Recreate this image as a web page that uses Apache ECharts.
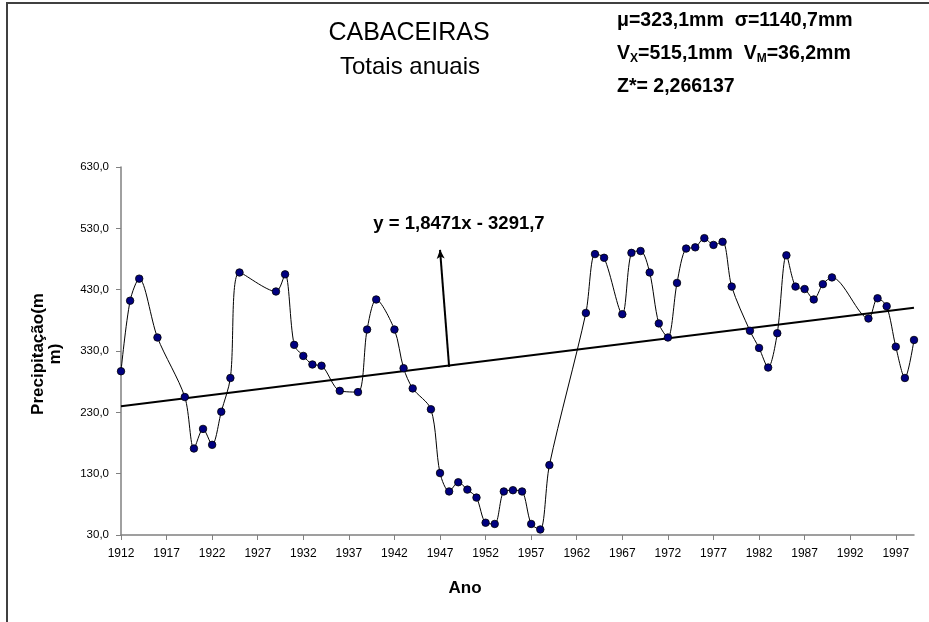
<!DOCTYPE html>
<html>
<head>
<meta charset="utf-8">
<script src="https://cdn.jsdelivr.net/npm/echarts@6/dist/echarts.min.js"></script>
<style>
html, body { margin: 0; padding: 0; background: #fff; }
#chart { width: 929px; height: 622px; }
</style>
</head>
<body>
<div id="chart"></div>
<script>
// anos (eixo de categorias)
var years = [
    '1912', '1913', '1914', '1915', '1916', '1917', '1918', '1919', '1920', '1921',
    '1922', '1923', '1924', '1925', '1926', '1927', '1928', '1929', '1930', '1931',
    '1932', '1933', '1934', '1935', '1936', '1937', '1938', '1939', '1940', '1941',
    '1942', '1943', '1944', '1945', '1946', '1947', '1948', '1949', '1950', '1951',
    '1952', '1953', '1954', '1955', '1956', '1957', '1958', '1959', '1960', '1961',
    '1962', '1963', '1964', '1965', '1966', '1967', '1968', '1969', '1970', '1971',
    '1972', '1973', '1974', '1975', '1976', '1977', '1978', '1979', '1980', '1981',
    '1982', '1983', '1984', '1985', '1986', '1987', '1988', '1989', '1990', '1991',
    '1992', '1993', '1994', '1995', '1996', '1997', '1998', '1999'
]

// totais anuais (mm), null = ano sem dado
var precip = [
    297, 412, 448, null, 352, null, null, 255, 171, 203,
    177, 231, 286, 458, null, null, null, 427, 455, 340,
    322, 308, 306, null, 265, null, 263, 365, 414, null,
    365, 302, 269, null, 235, 131, 101, 116, 104, 91,
    50, 48, 101, 103, 101, 48, 39, 144, null, null,
    null, 392, 488, 482, null, 390, 490, 493, 458, 375,
    352, 441, 497, 499, 514, 503, 508, 435, null, 363,
    335, 303, 359, 486, 435, 431, 414, 439, 450, null,
    null, null, 383, 416, 403, 337, 286, 348
]

// linha de tendencia (inicio / fim)
var trendYears = ['1912', '1999']
var trendValues = [240.0, 400.6]

// seta apontando para a equacao
var arrowTip = ['1947', 495]
var arrowBase = ['1948', 304]

var yTicks = [30, 130, 230, 330, 430, 530, 630]

var FONT = '"Liberation Sans", Arial, sans-serif'

var chart = echarts.init(document.getElementById('chart'))

var option = {
    animation: false,
    backgroundColor: '#fff',
    grid: {
        left: 121,
        right: 15,
        top: 167,
        bottom: 87,
        containLabel: false
    },
    xAxis: {
        type: 'category',
        data: years,
        boundaryGap: false,
        axisLine: { lineStyle: { color: '#808080', width: 1.5 } },
        axisTick: { interval: 4, length: 5, lineStyle: { color: '#808080' } },
        axisLabel: {
            interval: 4,
            margin: 13,
            fontSize: 12,
            fontFamily: FONT,
            color: '#000'
        },
        splitLine: { show: false }
    },
    yAxis: {
        type: 'value',
        min: 30,
        max: 630,
        axisLine: { show: true, lineStyle: { color: '#808080', width: 1.5 } },
        axisTick: {
            show: true,
            length: 5,
            customValues: yTicks,
            lineStyle: { color: '#808080' }
        },
        axisLabel: {
            customValues: yTicks,
            margin: 12,
            fontSize: 11.5,
            fontFamily: FONT,
            color: '#000',
            formatter: function (v) {
                return v.toFixed(1).replace('.', ',')
            }
        },
        splitLine: { show: false }
    },
    series: [
        {
            name: 'Precipitação',
            type: 'line',
            data: precip,
            smooth: 0.3,
            connectNulls: true,
            showAllSymbol: true,
            symbol: 'circle',
            symbolSize: 7.5,
            lineStyle: { color: '#000', width: 1 },
            itemStyle: { color: '#000080', borderColor: '#000', borderWidth: 0.8 },
            z: 3
        },
        {
            name: 'Tendência',
            type: 'line',
            data: [[trendYears[0], trendValues[0]], [trendYears[1], trendValues[1]]],
            symbol: 'none',
            lineStyle: { color: '#000', width: 2 },
            z: 2,
            markLine: {
                silent: true,
                symbol: ['arrow', 'none'],
                symbolSize: [6, 9],
                label: { show: false },
                lineStyle: { color: '#000', width: 2, type: 'solid' },
                data: [[{ coord: arrowTip }, { coord: arrowBase }]]
            }
        }
    ],
    graphic: [
        {
            type: 'rect',
            shape: { x: 7, y: 3, width: 1000, height: 700 },
            style: { fill: null, stroke: '#404040', lineWidth: 2 },
            silent: true
        },
        {
            type: 'text',
            x: 409, y: 33,
            style: {
                text: 'CABACEIRAS',
                font: '25px ' + FONT,
                fill: '#000',
                textAlign: 'center',
                textVerticalAlign: 'middle'
            }
        },
        {
            type: 'text',
            x: 410, y: 67,
            style: {
                text: 'Totais anuais',
                font: '24px ' + FONT,
                fill: '#000',
                textAlign: 'center',
                textVerticalAlign: 'middle'
            }
        },
        {
            type: 'text',
            x: 617, y: 21,
            style: {
                text: 'μ=323,1mm  σ=1140,7mm',
                font: 'bold 19.5px ' + FONT,
                fill: '#000',
                textAlign: 'left',
                textVerticalAlign: 'middle'
            }
        },
        {
            type: 'text',
            x: 617, y: 54,
            style: {
                text: 'V{sub|X}=515,1mm  V{sub|M}=36,2mm',
                font: 'bold 19.5px ' + FONT,
                fill: '#000',
                textAlign: 'left',
                textVerticalAlign: 'middle',
                rich: {
                    sub: {
                        font: 'bold 12px ' + FONT,
                        fill: '#000',
                        padding: [10, 0, 0, 0]
                    }
                }
            }
        },
        {
            type: 'text',
            x: 617, y: 87,
            style: {
                text: 'Z*= 2,266137',
                font: 'bold 19.5px ' + FONT,
                fill: '#000',
                textAlign: 'left',
                textVerticalAlign: 'middle'
            }
        },
        {
            type: 'text',
            x: 459, y: 224,
            style: {
                text: 'y = 1,8471x - 3291,7',
                font: 'bold 18.5px ' + FONT,
                fill: '#000',
                textAlign: 'center',
                textVerticalAlign: 'middle'
            }
        },
        {
            type: 'text',
            x: 47, y: 354,
            rotation: Math.PI / 2,
            style: {
                text: 'Precipitação(m\nm)',
                font: 'bold 17px ' + FONT,
                fill: '#000',
                textAlign: 'center',
                textVerticalAlign: 'middle',
                lineHeight: 17
            }
        },
        {
            type: 'text',
            x: 465, y: 588,
            style: {
                text: 'Ano',
                font: 'bold 17px ' + FONT,
                fill: '#000',
                textAlign: 'center',
                textVerticalAlign: 'middle'
            }
        }
    ]
}

chart.setOption(option)
</script>
</body>
</html>
